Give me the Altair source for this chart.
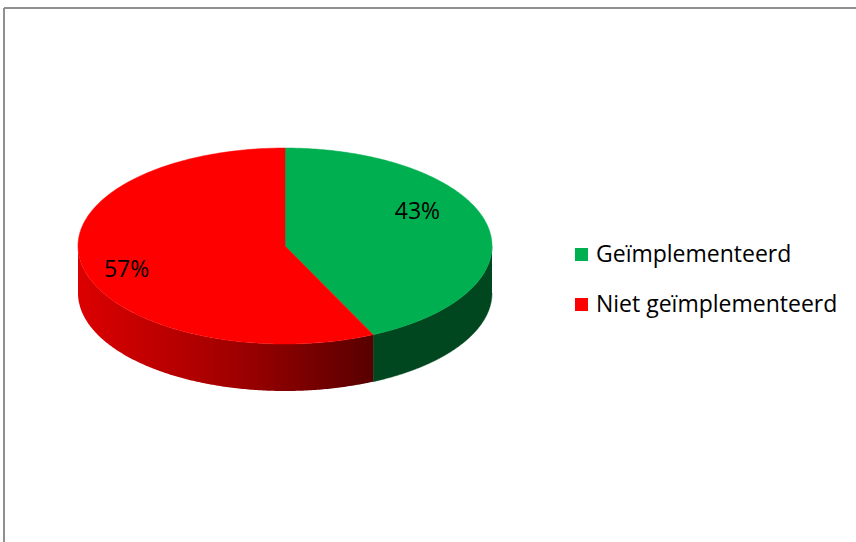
import numpy as np
import pandas as pd
import altair as alt

# ---- data ----
categories = ["Geïmplementeerd", "Niet geïmplementeerd"]
values = [43, 57]
label_texts = ["43%", "57%"]
top_colors = ["#00b050", "#ff0000"]

# ---- layout constants (pixels inside the plot view) ----
W, H = 852, 534
CX, CY = 281, 238      # centre of the top ellipse
RX, RY = 207, 98       # radii of the top ellipse
DEPTH = 47             # thickness of the 3-D disc
N = 200
LAB_RX, LAB_RY = 0.72, 1.35
LAB_DX, LAB_DY = -13, -5
FONT = "Open Sans"

total = float(sum(values))
ends = np.cumsum(values) / total * 360.0
starts = ends - np.array(values) / total * 360.0


def ex(a):
    return CX + RX * np.sin(np.radians(a))


def ey(a):
    return CY - RY * np.cos(np.radians(a))


top_rows, side_rows, label_rows = [], [], []
for cat, s, e, lab in zip(categories, starts, ends, label_texts):
    k = 0
    top_rows.append({"cat": cat, "k": k, "x": CX, "y": CY}); k += 1
    for a in np.linspace(s, e, N):
        top_rows.append({"cat": cat, "k": k, "x": ex(a), "y": ey(a)}); k += 1
    top_rows.append({"cat": cat, "k": k, "x": CX, "y": CY})

    a0, a1 = max(s, 90.0), min(e, 270.0)
    if a0 < a1:
        k = 0
        arc = np.linspace(a0, a1, N)
        for a in arc:
            side_rows.append({"cat": cat, "k": k, "x": ex(a), "y": ey(a)}); k += 1
        for a in arc[::-1]:
            side_rows.append({"cat": cat, "k": k, "x": ex(a), "y": ey(a) + DEPTH}); k += 1

    m = (s + e) / 2.0
    label_rows.append({
        "cat": cat, "text": lab,
        "x": CX + LAB_DX + RX * LAB_RX * np.sin(np.radians(m)),
        "y": CY + LAB_DY - RY * LAB_RY * np.cos(np.radians(m)),
    })

top_df = pd.DataFrame(top_rows)
side_df = pd.DataFrame(side_rows)
label_df = pd.DataFrame(label_rows)

xs = alt.Scale(domain=[0, W], nice=False, zero=False)
ys = alt.Scale(domain=[0, H], nice=False, zero=False, reverse=True)
X = alt.X("x:Q", scale=xs, axis=None)
Y = alt.Y("y:Q", scale=ys, axis=None)

side_green = alt.Chart(side_df).transform_filter(
    alt.datum.cat == categories[0]
).mark_line(fill="#00471f", stroke="#00471f", strokeWidth=0.5).encode(
    x=X, y=Y, order="k:Q"
)

side_red = alt.Chart(side_df).transform_filter(
    alt.datum.cat == categories[1]
).mark_line(
    fill=alt.LinearGradient(
        gradient="linear",
        stops=[
            alt.GradientStop(color="#dc0000", offset=0),
            alt.GradientStop(color="#a40000", offset=0.5),
            alt.GradientStop(color="#580000", offset=1),
        ],
        x1=0, x2=1, y1=0, y2=0,
    ),
    strokeWidth=0,
).encode(x=X, y=Y, order="k:Q")

color_scale = alt.Scale(domain=categories, range=top_colors)

top = alt.Chart(top_df).mark_line(strokeWidth=0.5).encode(
    x=X, y=Y, order="k:Q", detail="cat:N",
    fill=alt.Fill(
        "cat:N", scale=color_scale,
        legend=alt.Legend(
            orient="none", legendX=566, legendY=235, title=None,
            symbolType="square", symbolSize=169, symbolStrokeWidth=0,
            labelFontSize=23, labelFont=FONT,
            labelColor="#000000", labelLimit=400, labelOffset=3,
            rowPadding=26,
        ),
    ),
    stroke=alt.Stroke("cat:N", scale=color_scale, legend=None),
)

labels = alt.Chart(label_df).mark_text(
    fontSize=23, font=FONT, color="#000000", align="center", baseline="middle"
).encode(x=X, y=Y, text="text:N")

frame_left = alt.Chart(label_df).mark_rule(color="#8a8a8a", strokeWidth=1.5).encode(
    x=alt.value(0), y=alt.value(0), y2=alt.value(H)
)
frame_top = alt.Chart(label_df).mark_rule(color="#8a8a8a", strokeWidth=1.5).encode(
    x=alt.value(0), x2=alt.value(W), y=alt.value(0)
)

chart = alt.layer(
    frame_left, frame_top, side_green, side_red, top, labels
).properties(
    width=W, height=H,
    padding={"left": 4, "top": 8, "right": 0, "bottom": 0},
    autosize=alt.AutoSizeParams(type="none"),
).configure_view(stroke=None).configure(background="#ffffff")

chart.save("out.html", embed_options={"renderer": "svg", "actions": False})
